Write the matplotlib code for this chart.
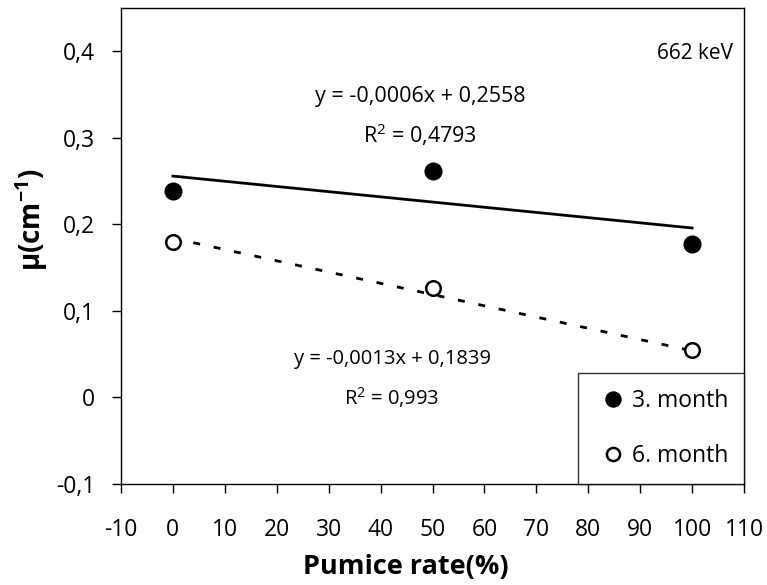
import numpy as np
import matplotlib.pyplot as plt

plt.rcParams['font.family'] = ['Open Sans', 'DejaVu Sans']

pumice = [0, 50, 100]
mu_3month = [0.238, 0.262, 0.177]
mu_6month = [0.180, 0.127, 0.055]

fit_3 = (-0.0006, 0.2558)
fit_6 = (-0.0013, 0.1839)

xticks = list(range(-10, 111, 10))
yticks = [-0.1, 0, 0.1, 0.2, 0.3, 0.4]
ytick_labels = ["-0,1", "0", "0,1", "0,2", "0,3", "0,4"]

fig = plt.figure(figsize=(7.67, 5.85), dpi=100)
ax = fig.add_axes([121 / 767, 1 - 484 / 585, 623 / 767, 476 / 585])

xfit = np.array([0, 100])
ax.plot(xfit, fit_3[0] * xfit + fit_3[1], color='black', lw=2.0, zorder=2)
ax.plot(xfit, fit_6[0] * xfit + fit_6[1], color='black', lw=2.0,
        ls=(0, (2.5, 5)), zorder=2)

ax.plot(pumice, mu_3month, 'o', color='black', ms=12, ls='none',
        label='3. month', zorder=3)
ax.plot(pumice, mu_6month, 'o', mfc='white', mec='black', mew=1.8, ms=10.5,
        ls='none', label='6. month', zorder=3)

ax.set_xlim(-10, 110)
ax.set_ylim(-0.1, 0.45)
ax.set_xticks(xticks)
ax.set_xticklabels([str(t) for t in xticks])
ax.set_yticks(yticks)
ax.set_yticklabels(ytick_labels)
ax.tick_params(axis='both', direction='out', length=6.5, width=1,
               labelsize=16.5, colors='black')
ax.tick_params(axis='x', pad=18)
ax.tick_params(axis='y', pad=12)
for s in ax.spines.values():
    s.set_linewidth(1.0)

ax.set_xlabel("Pumice rate(%)", fontsize=19.5, fontweight='bold')
ax.xaxis.set_label_coords(0.457, -0.148)
ax.set_ylabel(r"μ(cm$^{\mathregular{-1}}$)", fontsize=20, fontweight='bold')
ax.yaxis.set_label_coords(-0.114, 0.555)

ax.text(47.6, 0.348, "y = -0,0006x + 0,2558", ha='center', va='center',
        fontsize=15.5)
ax.text(47.6, 0.304, r"R$^{\mathregular{2}}$ = 0,4793", ha='center',
        va='center', fontsize=15.5)
ax.text(108, 0.398, "662 keV", ha='right', va='center', fontsize=15)
ax.text(42.2, 0.044, "y = -0,0013x + 0,1839", ha='center', va='center',
        fontsize=14.5)
ax.text(42.2, 0.0, r"R$^{\mathregular{2}}$ = 0,993", ha='center',
        va='center', fontsize=14.5)

leg = ax.legend(loc='lower right', bbox_to_anchor=(1.0, 0.0), fontsize=16.5,
                frameon=True, fancybox=False, borderaxespad=0,
                handletextpad=0.0, handlelength=1.65, labelspacing=1.35,
                borderpad=0.7, markerscale=0.9)
leg.get_frame().set_edgecolor('black')
leg.get_frame().set_linewidth(1.0)

fig.savefig("out.png", dpi=100, facecolor='white')
